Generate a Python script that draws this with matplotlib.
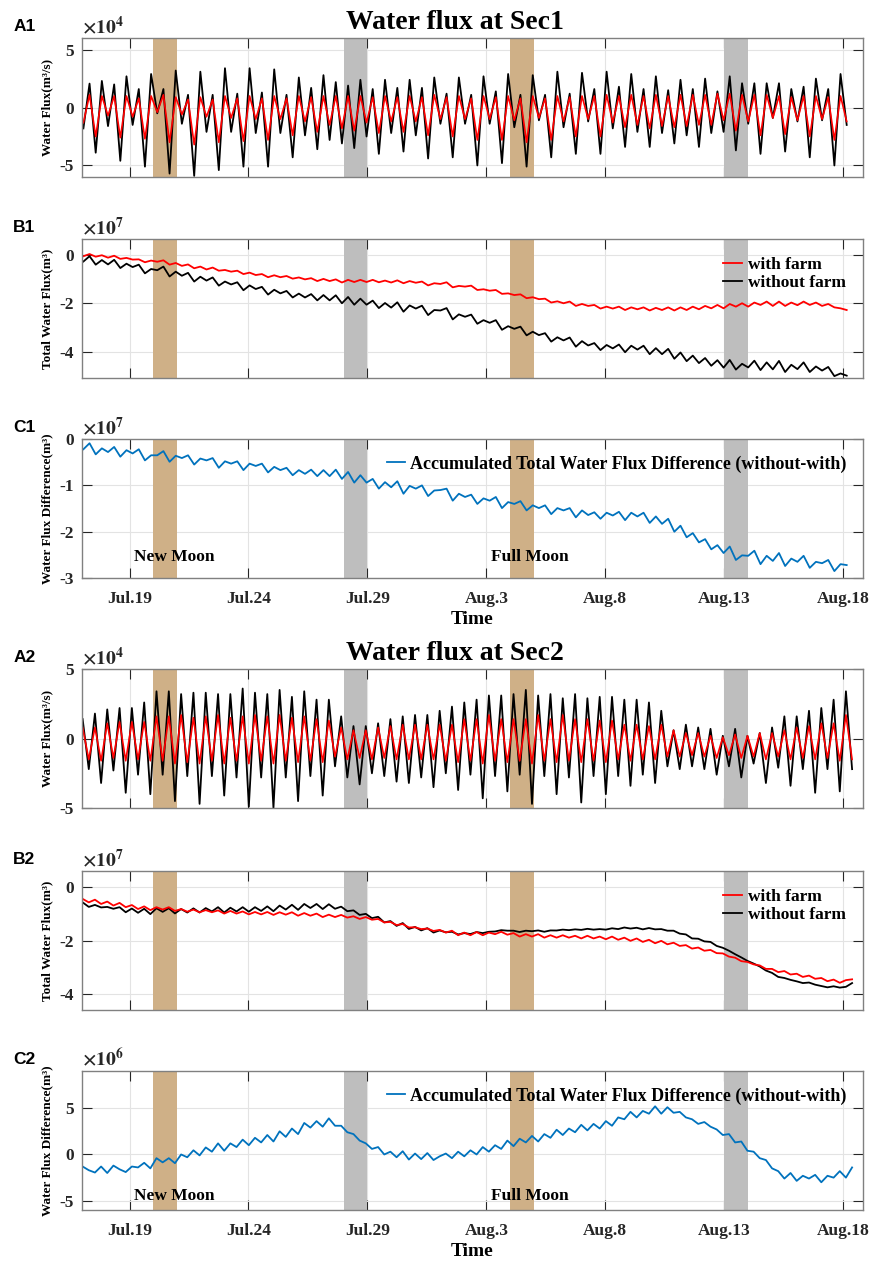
import numpy as np
import matplotlib
matplotlib.use('Agg')
import matplotlib.pyplot as plt
from matplotlib.ticker import FuncFormatter

plt.rcParams['font.family'] = ['Liberation Serif', 'DejaVu Serif']
plt.rcParams['font.weight'] = 'bold'
plt.rcParams['axes.unicode_minus'] = False
plt.rcParams['mathtext.fontset'] = 'stix'

# time in days since Jul.17 00:00, sampled at every tidal high / low (half of 12.42 h)
half_cycle = 12.42 / 2 / 24
t0_sec1 = 0.06
t0_sec2 = 0.028

date_ticks = [2, 7, 12, 17, 22, 27, 32]
date_labels = ['Jul.19', 'Jul.24', 'Jul.29', 'Aug.3', 'Aug.8', 'Aug.13', 'Aug.18']

moon_bands = [(3, 4), (18, 19)]      # new moon, full moon
quarter_bands = [(11, 12), (27, 28)]

# ---- Sec1 ----
# water flux (x1e4 m3/s), alternating low / high
a1_without = [-1.8, 2.07, -3.9, 2.3, -1.6, 2.0, -4.6, 2.7, -1.5, 1.6,
              -5.1, 2.9, -0.5, 1.6, -5.7, 3.2, -1.4, 1.1, -5.9, 3.1,
              -2.1, 1.1, -5.4, 3.4, -2.1, 1.2, -5.1, 3.4, -2.2, 1.3,
              -5.1, 3.3, -2.2, 1.1, -4.3, 2.6, -2.4, 1.7, -3.6, 2.8,
              -2.8, 2.2, -3.1, 1.9, -3.5, 2.4, -2.5, 1.6, -4.0, 2.4,
              -2.2, 1.7, -3.8, 2.4, -2.4, 1.7, -4.4, 2.6, -1.4, 1.2,
              -4.3, 2.6, -1.4, 1.1, -5.0, 2.7, -1.4, 1.4, -4.8, 2.9,
              -1.7, 1.1, -5.1, 2.8, -1.1, 1.1, -4.3, 3.1, -1.7, 1.2,
              -4.0, 3.0, -1.2, 1.6, -4.0, 3.1, -1.8, 1.8, -3.4, 2.9,
              -2.1, 1.6, -3.4, 2.7, -2.2, 1.5, -3.1, 2.4, -2.4, 1.6,
              -3.4, 2.5, -2.2, 1.4, -2.1, 2.7, -3.7, 2.1, -1.4, 2.1,
              -4.0, 2.1, -0.9, 2.1, -3.8, 1.6, -1.2, 1.8, -4.3, 2.5,
              -1.1, 1.6, -5.0, 2.9, -1.5]
a1_with = [-1.3, 1.1, -2.5, 1.0, -0.7, 1.0, -2.6, 1.0, -0.8, 0.8,
           -2.7, 1.0, -0.4, 1.1, -3.0, 0.9, -0.6, 0.7, -3.2, 0.9,
           -0.8, 0.7, -3.0, 1.0, -0.9, 0.8, -2.9, 1.0, -1.0, 0.8,
           -2.8, 1.0, -1.0, 0.8, -2.4, 1.0, -1.2, 0.9, -2.1, 1.0,
           -1.5, 1.0, -1.8, 1.0, -2.0, 1.0, -1.3, 0.9, -2.2, 1.0,
           -1.2, 0.9, -2.1, 1.0, -1.2, 0.9, -2.4, 1.1, -1.0, 0.9,
           -2.5, 1.0, -1.0, 0.8, -2.8, 1.0, -1.0, 0.9, -2.8, 1.0,
           -1.1, 0.8, -3.0, 1.0, -0.9, 0.8, -2.8, 1.0, -1.2, 0.9,
           -2.5, 1.0, -1.0, 1.0, -2.5, 1.1, -1.3, 1.0, -1.7, 1.1,
           -1.5, 1.0, -1.8, 1.1, -1.6, 1.0, -1.7, 1.1, -1.6, 1.1,
           -1.5, 1.1, -1.5, 1.2, -1.1, 1.2, -2.0, 1.1, -1.2, 1.1,
           -2.4, 1.1, -0.9, 1.0, -2.3, 0.9, -1.1, 1.0, -2.5, 1.0,
           -1.0, 0.9, -2.8, 1.0, -1.2]
# total water flux with farm (x1e7 m3)
b1_with = [-0.05, 0.04, -0.07, -0.01, -0.11, -0.03, -0.16, -0.12, -0.19, -0.18,
           -0.30, -0.23, -0.28, -0.22, -0.40, -0.33, -0.45, -0.39, -0.55, -0.48,
           -0.60, -0.52, -0.65, -0.62, -0.69, -0.65, -0.79, -0.73, -0.83, -0.79,
           -0.92, -0.84, -0.92, -0.87, -0.98, -0.93, -1.01, -0.96, -1.08, -0.99,
           -1.08, -1.01, -1.14, -1.03, -1.12, -1.03, -1.12, -1.03, -1.13, -1.06,
           -1.14, -1.05, -1.17, -1.08, -1.15, -1.10, -1.26, -1.17, -1.20, -1.13,
           -1.34, -1.28, -1.31, -1.27, -1.45, -1.42, -1.48, -1.45, -1.61, -1.59,
           -1.66, -1.63, -1.79, -1.75, -1.83, -1.81, -1.97, -1.92, -2.00, -1.93,
           -2.11, -2.03, -2.11, -2.07, -2.22, -2.14, -2.22, -2.14, -2.28, -2.17,
           -2.25, -2.17, -2.30, -2.19, -2.28, -2.17, -2.30, -2.17, -2.28, -2.14,
           -2.25, -2.11, -2.21, -2.07, -2.21, -2.03, -2.14, -2.00, -2.14, -1.97,
           -2.07, -1.93, -2.11, -1.93, -2.11, -1.97, -2.08, -1.93, -2.07, -1.97,
           -2.11, -2.03, -2.17, -2.21, -2.28]
# accumulated difference without - with (x1e7 m3)
c1_diff = [-0.22, -0.09, -0.33, -0.20, -0.28, -0.17, -0.38, -0.24, -0.31, -0.22,
           -0.46, -0.35, -0.35, -0.26, -0.49, -0.36, -0.41, -0.35, -0.55, -0.42,
           -0.46, -0.41, -0.62, -0.48, -0.53, -0.48, -0.67, -0.53, -0.58, -0.53,
           -0.72, -0.60, -0.67, -0.62, -0.78, -0.67, -0.75, -0.66, -0.80, -0.67,
           -0.80, -0.66, -0.86, -0.71, -0.94, -0.78, -0.94, -0.86, -1.07, -0.93,
           -1.04, -0.91, -1.18, -1.01, -1.07, -1.00, -1.23, -1.11, -1.10, -1.07,
           -1.33, -1.18, -1.25, -1.20, -1.40, -1.28, -1.33, -1.25, -1.49, -1.36,
           -1.40, -1.34, -1.54, -1.43, -1.49, -1.43, -1.62, -1.49, -1.54, -1.49,
           -1.69, -1.54, -1.64, -1.58, -1.72, -1.59, -1.65, -1.57, -1.75, -1.59,
           -1.67, -1.59, -1.81, -1.67, -1.83, -1.72, -2.00, -1.87, -2.12, -2.03,
           -2.23, -2.16, -2.38, -2.29, -2.46, -2.32, -2.61, -2.51, -2.52, -2.41,
           -2.70, -2.52, -2.63, -2.46, -2.74, -2.58, -2.65, -2.52, -2.78, -2.65,
           -2.68, -2.61, -2.85, -2.70, -2.72]

# ---- Sec2 ----
a2_without = [1.4, -2.2, 1.8, -3.2, 2.1, -2.3, 2.2, -3.9, 2.2, -2.6,
              2.6, -4.0, 3.4, -2.6, 3.4, -4.5, 3.2, -2.7, 3.3, -4.7,
              3.3, -2.7, 3.2, -4.1, 3.2, -2.8, 3.6, -4.9, 3.3, -2.8,
              3.2, -5.0, 3.5, -2.8, 3.0, -4.5, 3.4, -2.7, 2.8, -4.1,
              2.8, -2.0, 1.6, -2.8, 0.9, -3.3, 0.9, -2.5, 1.1, -2.7,
              1.4, -3.1, 1.6, -3.2, 1.7, -2.8, 1.7, -3.5, 2.0, -2.5,
              2.3, -3.7, 2.6, -2.6, 2.8, -4.3, 3.1, -2.7, 3.1, -3.8,
              3.2, -2.6, 3.5, -4.7, 3.1, -2.7, 3.2, -4.0, 2.9, -2.8,
              3.2, -4.6, 2.9, -2.7, 3.0, -4.0, 3.0, -2.7, 2.8, -3.4,
              2.8, -2.6, 2.6, -3.2, 2.0, -2.0, 0.6, -2.2, 1.0, -2.0,
              0.8, -2.2, 0.7, -2.6, 0.2, -2.0, 0.7, -2.8, 0.2, -1.8,
              0.4, -3.2, 0.8, -2.1, 1.6, -3.4, 1.6, -2.2, 2.0, -3.9,
              2.2, -2.2, 2.8, -3.8, 3.4, -2.2]
a2_with = [0.8, -1.5, 0.8, -1.6, 1.1, -1.4, 1.2, -1.6, 1.2, -1.5,
           1.2, -1.6, 1.6, -1.6, 1.6, -1.8, 1.7, -1.7, 1.5, -1.8,
           1.6, -1.6, 1.7, -1.8, 1.5, -1.6, 1.6, -1.8, 1.7, -1.6,
           1.6, -1.8, 1.7, -1.6, 1.5, -1.7, 1.6, -1.6, 1.4, -1.7,
           1.3, -1.3, 0.8, -1.5, 0.6, -1.4, 0.6, -1.5, 0.8, -1.4,
           0.9, -1.5, 1.0, -1.5, 1.0, -1.5, 1.0, -1.5, 1.0, -1.6,
           1.0, -1.7, 1.4, -1.6, 1.4, -1.8, 1.7, -1.6, 1.4, -1.7,
           1.4, -1.6, 1.4, -1.8, 1.7, -1.6, 1.4, -1.7, 1.7, -1.6,
           1.4, -1.7, 1.4, -1.6, 1.3, -1.7, 1.3, -1.5, 1.0, -1.6,
           1.0, -1.5, 0.9, -1.5, 1.0, -1.3, 0.6, -1.3, 0.4, -1.2,
           0.4, -1.3, 0.2, -1.4, 0.1, -1.2, 0.3, -1.4, 0.2, -1.3,
           0.4, -1.5, 0.4, -1.3, 0.6, -1.5, 0.8, -1.4, 0.9, -1.5,
           1.1, -1.4, 1.1, -1.6, 1.7, -1.5]
b2_with = [-0.44, -0.57, -0.47, -0.63, -0.54, -0.69, -0.59, -0.75, -0.67, -0.82,
           -0.72, -0.86, -0.75, -0.84, -0.75, -0.89, -0.82, -0.92, -0.84, -0.94,
           -0.86, -0.94, -0.87, -0.99, -0.89, -0.99, -0.91, -1.02, -0.93, -1.02,
           -0.93, -1.04, -0.94, -1.03, -0.94, -1.07, -0.97, -1.07, -0.99, -1.12,
           -1.03, -1.12, -1.04, -1.14, -1.09, -1.19, -1.12, -1.22, -1.19, -1.32,
           -1.30, -1.42, -1.38, -1.51, -1.50, -1.57, -1.55, -1.64, -1.60, -1.70,
           -1.63, -1.80, -1.70, -1.80, -1.68, -1.80, -1.70, -1.76, -1.67, -1.78,
           -1.72, -1.85, -1.76, -1.85, -1.76, -1.89, -1.80, -1.89, -1.80, -1.89,
           -1.82, -1.92, -1.82, -1.92, -1.85, -1.95, -1.85, -1.97, -1.89, -2.01,
           -1.92, -2.05, -1.97, -2.10, -2.01, -2.14, -2.08, -2.20, -2.17, -2.30,
           -2.26, -2.38, -2.35, -2.47, -2.48, -2.60, -2.64, -2.77, -2.80, -2.89,
           -2.93, -3.06, -3.06, -3.18, -3.14, -3.27, -3.24, -3.36, -3.31, -3.43,
           -3.40, -3.52, -3.46, -3.58, -3.48, -3.45]
# accumulated difference without - with (x1e6 m3)
c2_diff = [-1.3, -1.7, -1.95, -1.3, -2.0, -1.2, -1.6, -1.9, -1.3, -1.4,
           -0.9, -1.5, -0.4, -0.85, -0.4, -0.94, 0.0, -0.3, 0.45, -0.1,
           0.76, 0.3, 1.2, 0.4, 1.2, 0.8, 1.6, 1.0, 1.8, 1.3,
           2.1, 1.4, 2.5, 1.9, 2.8, 2.2, 3.4, 2.9, 3.6, 3.0,
           3.9, 3.1, 3.1, 2.4, 2.2, 1.5, 1.2, 0.6, 0.8, 0.0,
           0.3, -0.3, 0.35, -0.55, 0.1, -0.5, 0.15, -0.6, -0.2, 0.1,
           -0.4, 0.3, -0.2, 0.45, 0.0, 0.8, 0.3, 1.0, 0.6, 1.5,
           0.9, 1.7, 1.3, 2.0, 1.4, 2.2, 1.8, 2.67, 2.1, 2.8,
           2.4, 3.2, 2.6, 3.3, 2.8, 3.6, 3.1, 4.0, 3.8, 4.6,
           4.0, 4.7, 4.4, 5.2, 4.4, 5.1, 4.5, 4.6, 4.0, 3.8,
           3.3, 3.5, 3.0, 2.7, 2.1, 2.2, 1.3, 1.4, 0.4, 0.3,
           -0.4, -0.6, -1.5, -1.8, -2.6, -2.0, -2.85, -2.3, -2.6, -2.2,
           -3.0, -2.3, -2.5, -1.8, -2.5, -1.4]

TAN = '#CFB087'
GRAY = '#BEBEBE'
BLUE = '#0072BD'
AX_COLOR = '#262626'


def times(t0, vals):
    return t0 + half_cycle * np.arange(len(vals))


def style_axis(ax, ylim, yticks, exponent, ylabel, bottom=False):
    for a, b in moon_bands:
        ax.axvspan(a, b, color=TAN, lw=0, zorder=1)
    for a, b in quarter_bands:
        ax.axvspan(a, b, color=GRAY, lw=0, zorder=1)
    ax.set_xlim(0, 32.83)
    ax.set_ylim(ylim)
    ax.set_xticks(date_ticks)
    ax.set_yticks(yticks)
    if bottom:
        ax.set_xticklabels(date_labels)
        ax.set_xlabel('Time', fontsize=14, fontweight='bold', labelpad=3)
    else:
        ax.set_xticklabels([])
    scale = 10.0 ** exponent
    ax.yaxis.set_major_formatter(FuncFormatter(lambda v, p: '%g' % round(v / scale, 6)))
    ax.text(0.0, 1.005, r'$\times10^{%d}$' % exponent, transform=ax.transAxes,
            fontsize=14, fontweight='normal', color=AX_COLOR, ha='left', va='bottom')
    ax.set_ylabel(ylabel, fontsize=9.5, fontweight='bold', labelpad=4)
    ax.grid(True, color='#e3e3e3', lw=0.8, zorder=0)
    ax.set_axisbelow(True)
    ax.tick_params(direction='in', length=7, width=0.8, top=True, right=True,
                   labelsize=12.5, colors=AX_COLOR)
    ax.tick_params(axis='x', pad=9)
    ax.tick_params(axis='y', pad=6)
    for s in ax.spines.values():
        s.set_color('#808080')
        s.set_linewidth(1.0)
        s.set_zorder(5)


fig = plt.figure(figsize=(8.71, 12.61), dpi=100)
left, width, height = 0.0941, 0.8967, 0.1102
bottoms = [0.8596, 0.7002, 0.5416, 0.3592, 0.1990, 0.0404]
axes = [fig.add_axes([left, b, width, height]) for b in bottoms]

sections = [
    dict(t0=t0_sec1, a_wo=a1_without, a_w=a1_with, b_w=b1_with, c=c1_diff,
         c_exp=7, a_ylim=(-6e4, 6e4), b_ylim=(-5.1e7, 0.66e7),
         c_ylim=(-3e7, 0), c_ticks=[-3e7, -2e7, -1e7, 0],
         text_y=-2.55e7, name='Sec1', tag='1'),
    dict(t0=t0_sec2, a_wo=a2_without, a_w=a2_with, b_w=b2_with, c=c2_diff,
         c_exp=6, a_ylim=(-5e4, 5e4), b_ylim=(-4.6e7, 0.6e7),
         c_ylim=(-6e6, 9e6), c_ticks=[-5e6, 0, 5e6],
         text_y=-4.5e6, name='Sec2', tag='2'),
]

for i, s in enumerate(sections):
    ax_a, ax_b, ax_c = axes[3 * i:3 * i + 3]

    # A: water flux
    t = times(s['t0'], s['a_wo'])
    ax_a.plot(t, np.array(s['a_wo']) * 1e4, color='black', lw=1.3, zorder=3)
    t = times(s['t0'], s['a_w'])
    ax_a.plot(t, np.array(s['a_w']) * 1e4, color='red', lw=1.2, zorder=4)
    style_axis(ax_a, s['a_ylim'], [-5e4, 0, 5e4], 4, 'Water Flux(m³/s)')

    # B: total water flux, without farm = with farm + accumulated difference
    n = min(len(s['b_w']), len(s['c']))
    b_w = np.array(s['b_w'][:n]) * 1e7
    c = np.array(s['c'][:n]) * 10.0 ** s['c_exp']
    t = times(s['t0'], b_w)
    l_w, = ax_b.plot(t, b_w, color='red', lw=1.3, zorder=4, label='with farm')
    l_wo, = ax_b.plot(t, b_w + c, color='black', lw=1.3, zorder=3, label='without farm')
    style_axis(ax_b, s['b_ylim'], [-4e7, -2e7, 0], 7, 'Total Water Flux(m³)')
    ax_b.legend(handles=[l_w, l_wo], loc='upper right', frameon=False,
                fontsize=12.5, handlelength=1.1, handletextpad=0.3,
                labelspacing=0.15, borderaxespad=0.6)

    # C: accumulated difference
    ax_c.plot(t, c, color=BLUE, lw=1.3, zorder=3,
              label='Accumulated Total Water Flux Difference (without-with)')
    style_axis(ax_c, s['c_ylim'], s['c_ticks'], s['c_exp'],
               'Water Flux Difference(m³)', bottom=True)
    ax_c.legend(loc='upper right', frameon=False, fontsize=13, handlelength=1.0,
                handletextpad=0.3, borderaxespad=0.5)
    ax_c.text(2.2, s['text_y'], 'New Moon', fontsize=12.5, fontweight='bold',
              va='center', zorder=6)
    ax_c.text(17.2, s['text_y'], 'Full Moon', fontsize=12.5, fontweight='bold',
              va='center', zorder=6)

    # title and panel letters
    ya = bottoms[3 * i] + height
    fig.text(0.522, ya + 0.012, 'Water flux at ' + s['name'], fontsize=20,
             fontweight='bold', ha='center', va='center')
    for ax, letter in zip((ax_a, ax_b, ax_c), 'ABC'):
        pos = ax.get_position()
        fig.text(0.015, pos.y1 + 0.009, letter + s['tag'], fontsize=12.5,
                 fontweight='bold', family='Liberation Sans', va='center')

fig.savefig('out.png', dpi=100)
